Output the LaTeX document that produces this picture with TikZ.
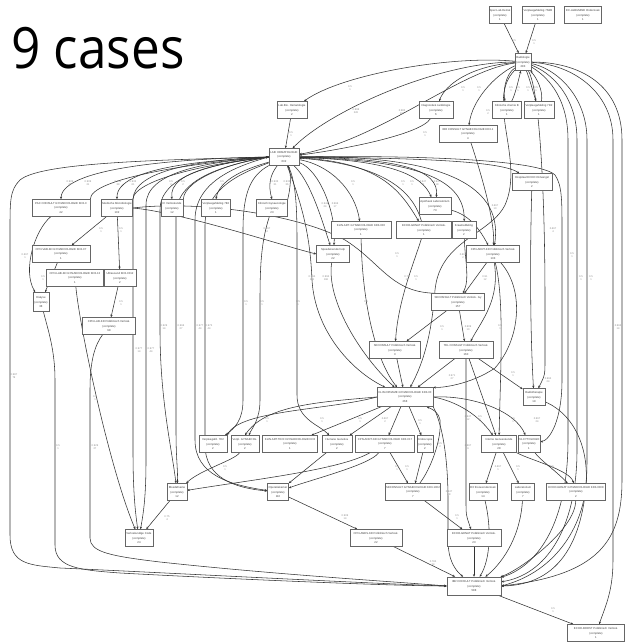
\documentclass[tikz,border=0pt]{standalone}
\usepackage{fontspec}
\setmainfont{Liberation Sans}
\newfontfamily\titlefont{Open Sans}
\usetikzlibrary{arrows.meta,backgrounds}
\begin{document}
\begin{tikzpicture}[x=1pt,y=-1pt,
  act/.style={draw=black!60, line width=0.5pt, fill=white, inner sep=0.4pt,
    minimum height=17, align=center, text=black!75,
    font=\fontsize{2.8}{4.7}\selectfont},
  e/.style={draw=black!80, line width=0.55pt, -{Stealth[length=2.6pt,width=2.2pt]}},
  el/.style={font=\fontsize{2.6}{3.4}\selectfont, text=black!45, align=center, inner sep=0pt}]
\useasboundingbox (0,0) rectangle (625,643);

% title
\node[anchor=base west, inner sep=0, font=\titlefont\fontsize{57}{57}\selectfont] (title) at (-18.3,68) {\scalebox{0.9}[1]{19 cases}};

% activities
\node[act, minimum width=22] (t1) at (500,15) {Spec.Lab.Hemat\\(complete)\\1};
\node[act, minimum width=32] (t2) at (538,15) {Verpleegafdeling 7N2B\\(complete)\\1};
\node[act, minimum width=37] (t3) at (583,15) {EC-ALBUMINE Onderzoek\\(complete)\\1};
\node[act, minimum width=16] (rad) at (523,62) {Radiologie\\(complete)\\283};
\node[act, minimum width=30] (labbio) at (292,110) {Lab.Bio. Hematologie\\(complete)\\2};
\node[act, minimum width=34] (diag) at (436,110) {Diagnostiek cardiologie\\(complete)\\6};
\node[act, minimum width=58] (ibr1) at (468,134) {IBR CONSULT GYNAECOLOGIE KD3-1\\(complete)\\4};
\node[act, minimum width=29] (klin) at (507,110) {Klinische chemie B\\(complete)\\1};
\node[act, minimum width=30] (verp2) at (539,110) {Verpleegafdeling 7D2\\(complete)\\1};
\node[act, minimum width=30] (hub) at (284,157) {LAB: HEMATOLOGIE\\(complete)\\632};
\node[act, minimum width=58] (pac) at (61,208) {PAC CONSULT GYNAECOLOGIE KD3-0\\(complete)\\42};
\node[act, minimum width=31] (med) at (117,208) {Medische Microbiologie\\(complete)\\102};
\node[act, minimum width=22] (ic) at (172,208) {IC Verloskunde\\(complete)\\12};
\node[act, minimum width=29] (vp7e) at (216,208) {Verpleegafdeling 7E2\\(complete)\\1};
\node[act, minimum width=31] (klgyn) at (272,208) {Klinisch Gynaecologie\\(complete)\\23};
\node[act, minimum width=58] (cpnvab) at (61,254) {CPN-VAB-KD GYNAECOLOGIE KD3-07\\(complete)\\1};
\node[act, minimum width=57] (cpnlab) at (75,278) {CPN-LAB-KD GYNAECOLOGIE KD3-13\\(complete)\\1};
\node[act, minimum width=32] (ultra) at (120,278) {Ultrasound KD3-0012\\(complete)\\2};
\node[act, minimum width=16, minimum height=19] (dial) at (41,302) {Dialyse\\(complete)\\38};
\node[act, minimum width=53] (cpnlab2) at (109,326) {CPN-LAB-KD Poliklinisch Verlosk.\\(complete)\\98};
\node[act, minimum width=40] (hosp) at (532,182) {Hospitaal ECHO Ontvangst\\(complete)\\2};
\node[act, minimum width=32] (apoth) at (435,206) {Apotheek Laboratorium\\(complete)\\73};
\node[act, minimum width=60] (klinart) at (361,230) {KLIN.ART. GYNAECOLOGIE KD3-000\\(complete)\\1};
\node[act, minimum width=55] (echo2) at (424,230) {ECHO-GENAT Poliklinisch Verlosk.\\(complete)\\1};
\node[act, minimum width=24] (kraam) at (464,230) {Kraamafdeling\\(complete)\\2};
\node[act, minimum width=33] (spoed) at (333,254) {Spoedeisende hulp\\(complete)\\22};
\node[act, minimum width=53] (cpnadrt) at (493,254) {CPN-ADRT-KD Poliklinisch Verlosk.\\(complete)\\133};
\node[act, minimum width=53] (secons) at (458,302) {SECONSULT Poliklinisch Verlosk. Gy\\(complete)\\157};
\node[act, minimum width=51] (secons2) at (395,350) {SECONSULT Poliklinisch Verlosk.\\(complete)\\3};
\node[act, minimum width=54] (tel) at (466,350) {TEL CONSULT Poliklinisch Verlosk.\\(complete)\\160};
\node[act, minimum width=56, minimum height=19] (hub2) at (405,397) {KLIN.OPNAME GYNAECOLOGIE KD3-00\\(complete)\\268};
\node[act, minimum width=22] (radioth) at (534,397) {Radiotherapie\\(complete)\\19};
\node[act, minimum width=28] (vp7d) at (213,444) {Verpleegafd. 7D2\\(complete)\\2};
\node[act, minimum width=28] (verpl) at (245,444) {Verpl. GYNAECOL.\\(complete)\\2};
\node[act, minimum width=55] (klinat) at (290,444) {KLIN.ART.TECH GYNAECOLOGIE KD3\\(complete)\\1};
\node[act, minimum width=30] (humane) at (337,444) {Humane Genetica\\(complete)\\2};
\node[act, minimum width=59] (cpnadrt2) at (385,444) {CPN-ADRT-KD GYNAECOLOGIE KD3-017\\(complete)\\7};
\node[act, minimum width=16] (endo) at (425,444) {Endoscopie\\(complete)\\2};
\node[act, minimum width=35] (admin) at (499,444) {Interne Geneeskunde\\(complete)\\28};
\node[act, minimum width=22] (pacyt) at (529,444) {PA-CYTOLOGIE\\(complete)\\1};
\node[act, minimum width=20] (bloed) at (177,492) {Bloedafname\\(complete)\\12};
\node[act, minimum width=21] (opk) at (278,492) {Operatiekamer\\(complete)\\110};
\node[act, minimum width=55] (secons3) at (413,492) {SECONSULT GYNAECOLOGIE KD3-1002\\(complete)\\7};
\node[act, minimum width=28] (rx) at (483,492) {RX thoraxonderzoek\\(complete)\\14};
\node[act, minimum width=23] (labor) at (523,492) {Laboratorium\\(complete)\\7};
\node[act, minimum width=59] (echogen) at (576,492) {ECHO-GENAT GYNAECOLOGIE KD3-0008\\(complete)\\2};
\node[act, minimum width=28] (verlcode) at (139,538) {Verloskundige Code\\(complete)\\24};
\node[act, minimum width=52] (cpnanes) at (376,538) {CPN-ANES-KD Poliklinisch Verlosk.\\(complete)\\22};
\node[act, minimum width=54] (echogen2) at (474,538) {ECHO-GENAT Poliklinisch Verlosk.\\(complete)\\23};
\node[act, minimum width=54, minimum height=18] (sink) at (474,586) {IBR CONSULT Poliklinisch Verlosk.\\(complete)\\588};
\node[act, minimum width=57] (echobr) at (596,633) {ECHO-BORST Poliklinisch Verlosk.\\(complete)\\1};

\begin{pgfonlayer}{background}
\fill[white] (0,0) rectangle (625,643);

% top row into Radiologie
\draw[e] (t1) -- (rad);
\draw[e] (t2) -- (rad);

% Radiologie upward / leftward
\draw[e] (rad) .. controls (450,55) and (340,75) .. (labbio);
\draw[e] (rad) .. controls (440,62) and (330,110) .. (hub);
\draw[e] (rad) .. controls (460,70) and (380,140) .. (hub);
\draw[e] (rad) .. controls (470,66) and (445,85) .. (diag);
\draw[e] (diag) .. controls (420,135) and (340,150) .. (hub);
\draw[e] (rad) .. controls (495,75) and (472,100) .. (ibr1);
\draw[e] (rad) .. controls (505,75) and (503,92) .. (klin);
\draw[e] (klin) .. controls (515,95) and (518,82) .. (rad);
\draw[e] (rad) .. controls (530,80) and (533,92) .. (verp2);
\draw[e] (verp2) .. controls (543,95) and (540,82) .. (rad);
\draw[e] (labbio) -- (hub);
\draw[e] (rad) .. controls (485,100) and (525,160) .. (505,205)
  .. controls (490,235) and (440,240) .. (435,290)
  .. controls (432,330) and (425,360) .. (hub2);
\draw[e] (ibr1) .. controls (480,170) and (495,220) .. (cpnadrt);

% Radiologie right-hand bundle
\draw[e] (rad) .. controls (545,75) and (568,95) .. (568,140) -- (568,440)
  .. controls (568,520) and (540,565) .. (sink);
\draw[e] (rad) .. controls (550,72) and (577,95) .. (577,140) -- (577,450)
  .. controls (577,530) and (545,575) .. (sink);
\draw[e] (rad) .. controls (555,68) and (587,95) .. (587,140) -- (587,460)
  .. controls (587,540) and (560,585) .. (sink.east);
\draw[e] (rad) .. controls (570,64) and (613,90) .. (613,140) -- (613,560)
  .. controls (613,590) and (606,605) .. (echobr);
\draw[e] (rad) .. controls (580,62) and (622,85) .. (622,140) -- (622,480)
  .. controls (622,540) and (600,575) .. (sink.east);
\draw[e] (rad) .. controls (540,90) and (545,200) .. (545,300) -- (545,360)
  .. controls (545,375) .. (radioth);

% LAB hub to first row and back
\draw[e] (hub.west) .. controls (200,158) and (62,165) .. (pac.north);
\draw[e] (pac.north east) .. controls (90,178) and (200,162) .. (hub.west);
\draw[e] (hub.west) .. controls (220,160) and (116,165) .. (med.north);
\draw[e] (med.north east) .. controls (135,178) and (220,162) .. (hub.west);
\draw[e] (hub.west) .. controls (230,162) and (168,170) .. (ic.north);
\draw[e] (ic.north east) .. controls (185,178) and (235,162) .. (hub.west);
\draw[e] (hub) .. controls (260,165) and (220,175) .. (vp7e.north);
\draw[e] (hub) .. controls (270,175) and (268,185) .. (klgyn.north);
\draw[e] (klgyn.north east) .. controls (290,190) and (292,175) .. (hub);

% long left-hand routes to the final consult
\draw[e] (hub.west) .. controls (150,160) and (40,163) .. (20,180)
  .. controls (10,190) and (10,200) .. (10,230) -- (10,535)
  .. controls (10,565) and (30,565) .. (60,568)
  .. controls (150,572) and (380,584) .. (sink.west);
\draw[e] (dial) .. controls (48,330) and (55,350) .. (55,380) -- (55,545)
  .. controls (55,568) and (80,570) .. (120,573)
  .. controls (250,580) and (400,586) .. (sink.west);
\draw[e] (cpnlab2) .. controls (95,345) and (90,360) .. (90,390) -- (90,538)
  .. controls (90,552) and (110,556) .. (160,562)
  .. controls (280,575) and (400,582) .. (sink.west);

% left cluster
\draw[e] (pac) .. controls (35,230) and (22,270) .. (dial);
\draw[e] (cpnvab) -- (dial);
\draw[e] (med) -- (cpnvab);
\draw[e] (med) -- (ultra);
\draw[e] (ultra) -- (cpnlab2);
\draw[e] (cpnlab) .. controls (80,330) and (110,470) .. (verlcode);
\draw[e] (med.east) .. controls (180,212) and (280,245) .. (spoed.west);
\draw[e] (med.east) .. controls (200,200) and (300,215) .. (345,240)
  .. controls (380,262) and (390,290) .. (430,293)
  .. controls (445,294) and (450,296) .. (secons);

% hub downward lines
\draw[e] (hub.west) .. controls (200,160) and (133,170) .. (133,200) -- (133,450)
  .. controls (133,490) and (135,510) .. (verlcode);
\draw[e] (hub.west) .. controls (205,162) and (146,172) .. (146,205) -- (146,460)
  .. controls (146,500) and (143,515) .. (verlcode);
\draw[e] (hub.west) .. controls (215,163) and (160,175) .. (160,210) -- (160,330)
  .. controls (160,400) and (172,450) .. (bloed);
\draw[e] (hub.west) .. controls (225,165) and (176,178) .. (176,215) -- (176,430)
  .. controls (176,460) and (178,470) .. (bloed);
\draw[e] (hub.west) .. controls (240,165) and (195,180) .. (195,220) -- (195,440)
  .. controls (195,475) and (230,485) .. (opk);
\draw[e] (hub) .. controls (250,170) and (205,185) .. (205,225) -- (205,445)
  .. controls (205,478) and (235,488) .. (opk);
\draw[e] (hub) .. controls (252,175) and (243,190) .. (243,230) -- (243,400)
  .. controls (243,420) and (235,428) .. (vp7d);
\draw[e] (klgyn) .. controls (262,240) and (260,260) .. (260,300) -- (260,400)
  .. controls (260,420) and (252,428) .. (verpl);
\draw[e] (hub) .. controls (295,180) and (297,200) .. (297,240) -- (297,395)
  .. controls (297,420) and (320,425) .. (humane);

% hub to the middle block
\draw[e] (hub) .. controls (310,180) and (322,220) .. (spoed);
\draw[e] (hub) .. controls (320,170) and (337,215) .. (spoed);
\draw[e] (hub) .. controls (300,200) and (310,230) .. (312,280)
  .. controls (315,330) and (350,370) .. (hub2);
\draw[e] (spoed) .. controls (326,300) and (360,355) .. (hub2);
\draw[e] (hub) .. controls (330,165) and (355,190) .. (klinart);
\draw[e] (hub) .. controls (380,162) and (400,190) .. (echo2);
\draw[e] (echo2) .. controls (414,195) and (390,165) .. (hub);
\draw[e] (hub) .. controls (390,160) and (422,175) .. (apoth);
\draw[e] (hub) .. controls (400,158) and (440,170) .. (apoth);
\draw[e] (apoth) .. controls (470,215) and (480,230) .. (cpnadrt);
\draw[e] (hub) .. controls (420,160) and (465,180) .. (kraam);
\draw[e] (hub) .. controls (430,155) and (505,180) .. (cpnadrt);
\draw[e] (hub.east) .. controls (400,158) and (500,160) .. (hosp);
\draw[e] (hub.east) .. controls (420,155) and (540,160) .. (555,175)
  .. controls (562,185) and (562,200) .. (562,230) -- (562,380)
  .. controls (562,420) and (550,440) .. (pacyt);
\draw[e] (hosp) .. controls (530,250) and (530,330) .. (radioth);
\draw[e] (kraam) .. controls (465,260) and (470,280) .. (secons);
\draw[e] (klinart) .. controls (362,300) and (375,360) .. (hub2);
\draw[e] (echo2) .. controls (415,260) and (398,300) .. (secons2);

% consult chain
\draw[e] (cpnadrt) -- (secons);
\draw[e] (cpnadrt) .. controls (500,300) and (482,320) .. (tel);
\draw[e] (cpnadrt) .. controls (505,300) and (500,380) .. (admin);
\draw[e] (cpnadrt) .. controls (525,290) and (520,340) .. (495,368)
  .. controls (470,385) and (440,388) .. (hub2.north east);
\draw[e] (secons) -- (secons2);
\draw[e] (secons) -- (tel);
\draw[e] (secons2) -- (hub2);
\draw[e] (tel) -- (hub2);
\draw[e] (tel) -- (radioth);
\draw[e] (tel) -- (admin);
\draw[e] (tel) .. controls (466,420) and (466,470) .. (466,500)
  .. controls (466,515) .. (echogen2);

% from the admission hub
\draw[e] (hub2.west) .. controls (320,402) and (265,405) .. (verpl.north);
\draw[e] (hub2.west) .. controls (330,410) and (240,410) .. (vp7d.north east);
\draw[e] (hub2) -- (klinat);
\draw[e] (hub2) -- (humane);
\draw[e] (hub2) -- (cpnadrt2);
\draw[e] (hub2) -- (endo);
\draw[e] (hub2.east) .. controls (450,400) and (475,410) .. (admin);
\draw[e] (hub2.east) .. controls (470,395) and (515,410) .. (pacyt);
\draw[e] (hub2.south east) .. controls (445,430) and (448,470) .. (448,500) -- (448,540)
  .. controls (448,560) and (455,570) .. (sink);
\draw[e] (secons3) .. controls (430,470) and (442,440) .. (440,420)
  .. controls (438,412) and (434,410) .. (hub2);

% lower part
\draw[e] (verpl) .. controls (235,460) and (200,470) .. (bloed);
\draw[e] (cpnadrt2) .. controls (340,470) and (250,480) .. (bloed);
\draw[e] (cpnadrt2) .. controls (370,465) and (310,480) .. (opk);
\draw[e] (humane) -- (opk);
\draw[e] (cpnadrt2) -- (secons3);
\draw[e] (endo) -- (secons3);
\draw[e] (bloed) -- (verlcode);
\draw[e] (opk) -- (cpnanes);
\draw[e] (cpnanes) -- (sink);
\draw[e] (secons3) -- (echogen2);
\draw[e] (echogen2) -- (sink);
\draw[e] (admin) -- (rx);
\draw[e] (admin) -- (labor);
\draw[e] (admin.south east) .. controls (530,460) and (570,470) .. (echogen);
\draw[e] (pacyt) .. controls (540,460) and (555,470) .. (echogen);
\draw[e] (rx) .. controls (492,530) and (490,560) .. (sink);
\draw[e] (labor) .. controls (520,540) and (500,565) .. (sink);
\draw[e] (echogen) .. controls (575,530) and (520,570) .. (sink);
\draw[e] (radioth) .. controls (610,430) and (600,560) .. (sink.east);
\draw[e] (sink) -- (echobr);
\end{pgfonlayer}

% connector labels (dependency / frequency)
\node[el] (l01) at (514,42) {0.5\\1};
\node[el] (l02) at (534,42) {0.5\\1};
\node[el] (l03) at (350,88) {0.5\\1};
\node[el] (l04) at (356,111) {0.996\\226};
\node[el] (l05) at (402,112) {0.983\\104};
\node[el] (l06) at (463,89) {0.5\\1};
\node[el] (l07) at (479,89) {0.5\\1};
\node[el] (l08) at (425,134) {0.5\\1};
\node[el] (l09) at (511,89) {0.5\\1};
\node[el] (l10) at (518,89) {0.5\\1};
\node[el] (l11) at (528,89) {0.5\\1};
\node[el] (l12) at (536,89) {0.5\\1};
\node[el] (l13) at (291,134) {0.5\\1};
\node[el] (l14) at (488,112) {0.5\\2};
\node[el] (l15) at (495,207) {0.667\\10};
\node[el] (l16) at (572,255) {0.5\\1};
\node[el] (l17) at (581,278) {0.5\\1};
\node[el] (l18) at (591,278) {0.5\\1};
\node[el] (l19) at (618,327) {0.962\\14};
\node[el] (l20) at (70,183) {0.909\\22};
\node[el] (l21) at (88,183) {0.909\\21};
\node[el] (l22) at (118,183) {0.962\\39};
\node[el] (l23) at (133,183) {0.933\\61};
\node[el] (l24) at (171,183) {0.5\\2};
\node[el] (l25) at (183,183) {0.5\\2};
\node[el] (l26) at (222,183) {0.5\\1};
\node[el] (l27) at (275,183) {0.933\\31};
\node[el] (l28) at (287,183) {0.933\\36};
\node[el] (l29) at (14,376) {0.987\\79};
\node[el] (l30) at (58,447) {0.5\\1};
\node[el] (l31) at (95,447) {0.929\\27};
\node[el] (l32) at (25,256) {0.667\\1};
\node[el] (l33) at (43,278) {0.5\\1};
\node[el] (l34) at (101,230) {0.5\\1};
\node[el] (l35) at (121,230) {0.5\\1};
\node[el] (l36) at (121,303) {0.5\\1};
\node[el] (l37) at (95,398) {0.5\\1};
\node[el] (l38) at (267,230) {0.667\\4};
\node[el] (l39) at (407,278) {0.75\\11};
\node[el] (l40) at (416,278) {0.5\\1};
\node[el] (l41) at (139,350) {0.977\\14};
\node[el] (l42) at (151,350) {0.977\\44};
\node[el] (l43) at (164,327) {0.929\\14};
\node[el] (l44) at (181,327) {0.966\\27};
\node[el] (l45) at (200,327) {0.977\\44};
\node[el] (l46) at (209,327) {0.972\\44};
\node[el] (l47) at (246,303) {0.5\\1};
\node[el] (l48) at (262,303) {0.5\\1};
\node[el] (l49) at (298,303) {0.5\\1};
\node[el] (l50) at (325,205) {0.944\\24};
\node[el] (l51) at (335,205) {0.966\\17};
\node[el] (l52) at (312,278) {0.994\\173};
\node[el] (l53) at (326,278) {0.994\\166};
\node[el] (l54) at (353,183) {0.5\\1};
\node[el] (l55) at (403,183) {0.5\\1};
\node[el] (l56) at (412,183) {0.5\\1};
\node[el] (l57) at (423,183) {0.947\\11};
\node[el] (l58) at (437,183) {0.947\\18};
\node[el] (l59) at (553,230) {0.667\\4};
\node[el] (l60) at (463,256) {0.667\\2};
\node[el] (l61) at (366,303) {0.5\\1};
\node[el] (l62) at (397,255) {0.5\\1};
\node[el] (l63) at (485,278) {0.91\\12};
\node[el] (l64) at (500,327) {0.5\\1};
\node[el] (l65) at (442,328) {0.5\\1};
\node[el] (l66) at (468,328) {0.909\\10};
\node[el] (l67) at (452,377) {0.971\\27};
\node[el] (l68) at (513,374) {0.5\\1};
\node[el] (l69) at (548,380) {0.962\\24};
\node[el] (l70) at (468,418) {0.947\\12};
\node[el] (l71) at (480,418) {0.5\\1};
\node[el] (l72) at (267,420) {0.5\\1};
\node[el] (l73) at (322,420) {0.5\\1};
\node[el] (l74) at (360,420) {0.5\\1};
\node[el] (l75) at (385,420) {0.667\\2};
\node[el] (l76) at (420,422) {0.5\\1};
\node[el] (l77) at (513,420) {0.5\\1};
\node[el] (l78) at (537,420) {0.967\\24};
\node[el] (l79) at (440,445) {0.5\\2};
\node[el] (l80) at (468,447) {0.667\\6};
\node[el] (l81) at (225,468) {0.5\\1};
\node[el] (l82) at (330,468) {0.5\\1};
\node[el] (l83) at (397,468) {0.5\\1};
\node[el] (l84) at (407,468) {0.5\\1};
\node[el] (l85) at (449,493) {0.947\\48};
\node[el] (l86) at (498,468) {0.667\\1};
\node[el] (l87) at (518,468) {0.5\\1};
\node[el] (l88) at (552,468) {0.5\\1};
\node[el] (l89) at (167,518) {0.75\\4};
\node[el] (l90) at (345,517) {0.909\\14};
\node[el] (l91) at (457,517) {0.5\\1};
\node[el] (l92) at (433,563) {0.784\\24};
\node[el] (l93) at (553,610) {0.5\\1};
\end{tikzpicture}
\end{document}
